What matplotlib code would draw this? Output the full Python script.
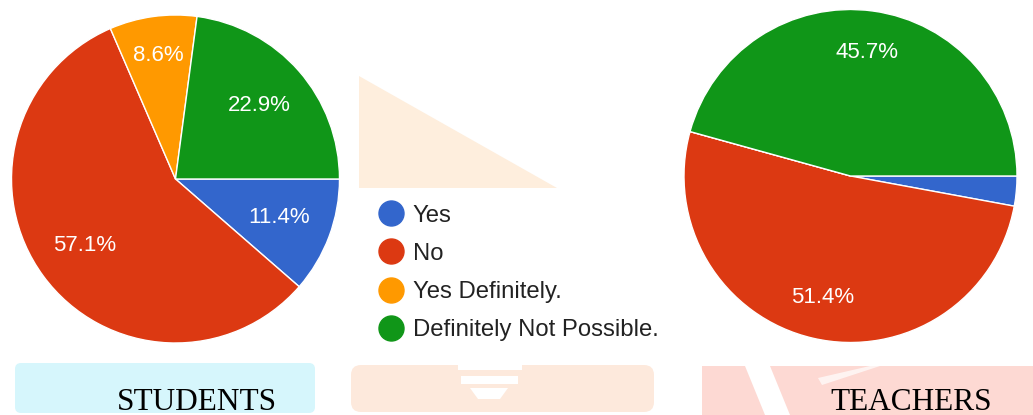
import matplotlib.pyplot as plt
from matplotlib.patches import Polygon, Rectangle, FancyBboxPatch
from matplotlib.lines import Line2D

# survey answers, percent
categories = ["Yes", "No", "Yes Definitely.", "Definitely Not Possible."]
students = [11.4, 57.1, 8.6, 22.9]
teachers = [2.9, 51.4, 0.0, 45.7]
group_names = ["STUDENTS", "TEACHERS"]

colors = ["#3366cc", "#dc3912", "#ff9900", "#109618"]

W, H = 1033, 415
fig = plt.figure(figsize=(W / 100, H / 100), dpi=100)

# faint watermark behind everything (pixel coords)
bg = fig.add_axes([0, 0, 1, 1], zorder=0)
bg.set_xlim(0, W)
bg.set_ylim(H, 0)
bg.axis("off")
bg.add_patch(Polygon([(359, 76), (557, 188), (359, 188)], color="#feeedd", lw=0))
bg.add_patch(FancyBboxPatch((18, 366), 294, 44, boxstyle="round,pad=3,rounding_size=6",
                            color="#d6f6fc", lw=0))
bg.add_patch(FancyBboxPatch((354, 368), 297, 41, boxstyle="round,pad=3,rounding_size=10",
                            color="#fde9dc", lw=0))
bg.add_patch(Rectangle((458, 364), 64, 6, color="white", lw=0))
bg.add_patch(Rectangle((461, 376), 57, 8, color="white", lw=0))
bg.add_patch(Polygon([(470, 388), (508, 388), (500, 399), (478, 399)], color="white", lw=0))
bg.add_patch(Rectangle((702, 366), 331, 49, color="#fdd9d3", lw=0))
bg.add_patch(Polygon([(745, 366), (770, 366), (790, 415), (765, 415)], color="white", lw=0))
bg.add_patch(Polygon([(818, 378), (870, 366), (880, 366), (822, 385)], color="white", lw=0, alpha=0.7))


def pie_axes(cx, cy, r):
    return fig.add_axes([(cx - r) / W, (H - cy - r) / H, 2 * r / W, 2 * r / H], zorder=2)


def draw_pie(ax, vals, label_dist):
    wedges, _, autotexts = ax.pie(
        vals, colors=colors, startangle=0, counterclock=False,
        autopct=lambda p: f"{p:.1f}%" if p >= 5 else "",
        pctdistance=0.7, radius=1.0,
        wedgeprops=dict(edgecolor="white", linewidth=1.0),
        textprops=dict(color="white", fontsize=16, family="Liberation Sans"))
    # nudge labels outward/inward like the original
    for t, d in zip(autotexts, label_dist):
        x, y = t.get_position()
        k = d / 0.7
        t.set_position((x * k, y * k))
    ax.set_xlim(-1, 1)
    ax.set_ylim(-1, 1)
    ax.set_aspect("equal")
    ax.axis("off")


ax1 = pie_axes(175.5, 179, 164)
draw_pie(ax1, students, [0.675, 0.69, 0.76, 0.68])
ax2 = pie_axes(850.5, 176, 166.5)
draw_pie(ax2, teachers, [0.75, 0.75, 0.75, 0.75])

handles = [Line2D([], [], marker="o", ls="", markersize=18, markerfacecolor=c,
                  markeredgecolor=c) for c in colors]
fig.legend(handles, categories, loc="upper left", bbox_to_anchor=(379 / W, 1 - 204.5 / H),
           frameon=False, prop=dict(family="Liberation Sans", size=17.2),
           labelcolor="#222222", handletextpad=0.42, labelspacing=0.68,
           handlelength=1.0, borderaxespad=0, borderpad=0)

for name, x in zip(group_names, [197, 911]):
    fig.text(x / W, 1 - 410 / H, name, ha="center", va="baseline",
             family="Liberation Serif", fontsize=22.5, color="black", zorder=3)

fig.savefig("out.png", dpi=100)
